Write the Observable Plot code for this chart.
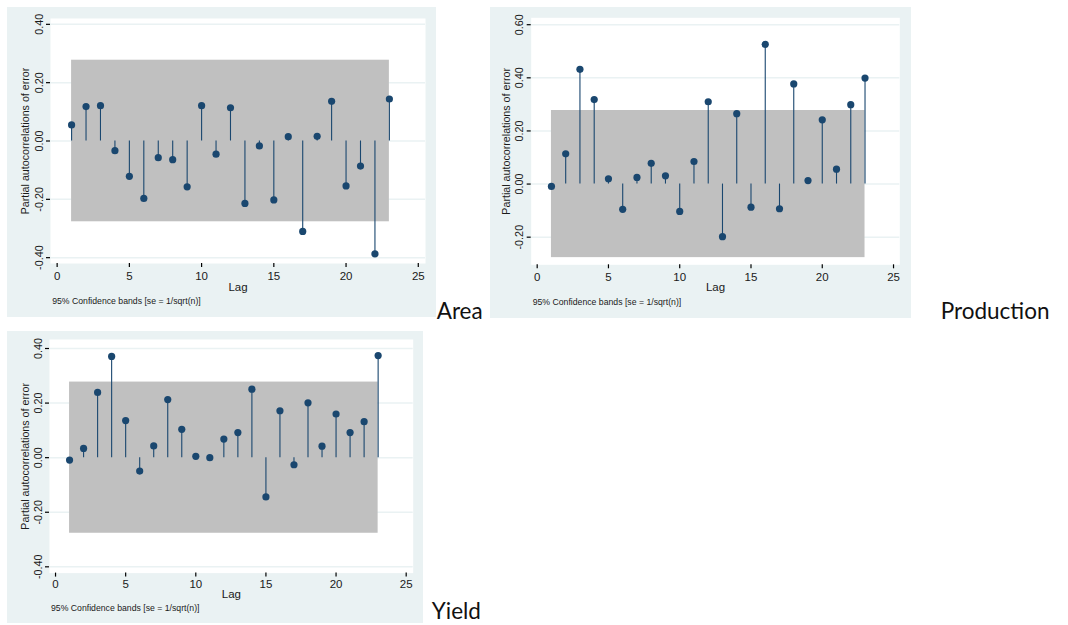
<!DOCTYPE html>
<html>
<head>
<meta charset="utf-8">
<script src="https://cdn.jsdelivr.net/npm/d3@7"></script>
<script src="https://cdn.jsdelivr.net/npm/@observablehq/plot@0.6"></script>
<style>
html, body { margin: 0; padding: 0; background: #ffffff; }
#root { position: relative; width: 1068px; height: 625px; overflow: hidden; }
.panel { position: absolute; }
#labels { position: absolute; left: 0; top: 0; pointer-events: none; }
</style>
</head>
<body>
<div id="root"></div>
<script>
// ---------- data ----------
const lags = [1, 2, 3, 4, 5, 6, 7, 8, 9, 10, 11, 12, 13, 14, 15, 16, 17, 18, 19, 20, 21, 22, 23];
const areaPacf = [0.055, 0.118, 0.121, -0.033, -0.121, -0.197, -0.057, -0.064, -0.157, 0.121, -0.045, 0.114,
                  -0.214, -0.017, -0.202, 0.015, -0.310, 0.016, 0.136, -0.154, -0.086, -0.387, 0.144];
const productionPacf = [-0.009, 0.114, 0.432, 0.318, 0.020, -0.095, 0.025, 0.078, 0.031, -0.103, 0.085, 0.310,
                        -0.198, 0.265, -0.087, 0.526, -0.093, 0.377, 0.013, 0.242, 0.056, 0.299, 0.399];
const yieldPacf = [-0.009, 0.034, 0.239, 0.371, 0.136, -0.049, 0.043, 0.213, 0.104, 0.005, 0.000, 0.068,
                   0.092, 0.251, -0.144, 0.172, -0.026, 0.201, 0.042, 0.160, 0.092, 0.132, 0.374];
const bandHalfWidth = 0.277;           // 95% band, se = 1/sqrt(n)
const xTicks = [0, 5, 10, 15, 20, 25];
const areaYTicks = [-0.4, -0.2, 0, 0.2, 0.4];
const productionYTicks = [-0.2, 0, 0.2, 0.4, 0.6];
const yieldYTicks = [-0.4, -0.2, 0, 0.2, 0.4];
const panelNames = ["Area", "Production", "Yield"];
const yAxisTitle = "Partial autocorrelations of error";
const xAxisTitle = "Lag";
const noteText = "95% Confidence bands [se = 1/sqrt(n)]";

// ---------- styling / layout ----------
const NAVY = "#1a476f";
const BG = "#eaf2f3";
const BAND = "#c0c0c0";
const TEXT = "#1a1a1a";
const FONT = "'Liberation Sans', Arial, sans-serif";

const panels = [
  { name: panelNames[0], values: areaPacf, yTicks: areaYTicks,
    left: 7, top: 7, width: 429, height: 310,
    margin: { top: 11, right: 11, bottom: 54, left: 43 },
    xDomain: [-0.46, 25.5], yDomain: [-0.42, 0.42],
    tickDy: 13, lagDy: 24, noteDy: 37.7, noteDx: 1.7, titleDx: -25, tickLabelDx: -8,
    label: { x: 436.7, y: 319.3 } },
  { name: panelNames[1], values: productionPacf, yTicks: productionYTicks,
    left: 490, top: 7, width: 421, height: 311,
    margin: { top: 10.3, right: 11.7, bottom: 53.7, left: 40.7 },
    xDomain: [-0.42, 25.44], yDomain: [-0.304, 0.626],
    tickDy: 12.4, lagDy: 23, noteDy: 37.4, noteDx: 1.5, titleDx: -25, tickLabelDx: -8,
    label: { x: 940.7, y: 319.3 } },
  { name: panelNames[2], values: yieldPacf, yTicks: yieldYTicks,
    left: 7, top: 331, width: 416, height: 292,
    margin: { top: 8, right: 10.3, bottom: 50.4, left: 42 },
    xDomain: [-0.43, 25.5], yDomain: [-0.423, 0.433],
    tickDy: 11, lagDy: 21.5, noteDy: 35, noteDx: 1.5, titleDx: -24, tickLabelDx: -7.5,
    label: { x: 431.7, y: 619 } }
];

const root = document.getElementById("root");

for (const p of panels) {
  const data = lags.map((lag, i) => ({ lag, value: p.values[i] }));
  const band = [{ x1: lags[0], x2: lags[lags.length - 1], y1: -bandHalfWidth, y2: bandHalfWidth }];

  const chart = Plot.plot({
    width: p.width,
    height: p.height,
    marginTop: p.margin.top,
    marginRight: p.margin.right,
    marginBottom: p.margin.bottom,
    marginLeft: p.margin.left,
    style: { background: BG, fontFamily: FONT, color: "#000", overflow: "visible" },
    x: { domain: p.xDomain },
    y: { domain: p.yDomain },
    marks: [
      Plot.frame({ fill: "white", stroke: null }),
      Plot.ruleY(p.yTicks, { y: d => d, stroke: BG, strokeWidth: 1.5 }),
      Plot.rect(band, { x1: "x1", x2: "x2", y1: "y1", y2: "y2", fill: BAND }),
      Plot.ruleX(data, { x: "lag", y1: 0, y2: "value", stroke: NAVY, strokeWidth: 1.1 }),
      Plot.dot(data, { x: "lag", y: "value", r: 3.6, fill: NAVY, stroke: null }),
      Plot.axisX(xTicks, { tickSize: 4, tickFormat: () => "", label: null, line: true, strokeWidth: 1.2 }),
      Plot.axisY(p.yTicks, { tickSize: 4, tickFormat: () => "", label: null, line: true, strokeWidth: 1.2 }),
      Plot.text(xTicks, { x: d => d, text: d => String(d), frameAnchor: "bottom", dy: p.tickDy,
        lineAnchor: "middle", fontSize: 11.5, fill: TEXT }),
      Plot.text(p.yTicks, { y: d => d, text: d => d.toFixed(2), frameAnchor: "left", dx: p.tickLabelDx,
        rotate: -90, textAnchor: "middle", lineAnchor: "bottom", fontSize: 10.8, fill: TEXT }),
      Plot.text([yAxisTitle], { text: d => d, frameAnchor: "left", dx: p.titleDx, rotate: -90,
        textAnchor: "middle", lineAnchor: "middle", fontSize: 10.7, fill: TEXT }),
      Plot.text([xAxisTitle], { text: d => d, frameAnchor: "bottom", dy: p.lagDy,
        lineAnchor: "middle", fontSize: 11.5, fill: TEXT }),
      Plot.text([noteText], { text: d => d, frameAnchor: "bottom-left", dx: p.noteDx, dy: p.noteDy,
        textAnchor: "start", lineAnchor: "middle", fontSize: 8.7, fill: TEXT })
    ]
  });
  const wrap = document.createElement("div");
  wrap.className = "panel";
  wrap.style.left = p.left + "px";
  wrap.style.top = p.top + "px";
  wrap.appendChild(chart);
  root.appendChild(wrap);
}

// panel names beside the charts
const labelSvg = d3.select(root).append("svg")
  .attr("id", "labels")
  .attr("width", 1068)
  .attr("height", 625);
labelSvg.selectAll("text")
  .data(panels)
  .join("text")
  .attr("x", d => d.label.x)
  .attr("y", d => d.label.y)
  .attr("font-family", "Lato, 'Open Sans', sans-serif")
  .attr("font-size", 22.5)
  .attr("fill", "#111")
  .text(d => d.name);
</script>
</body>
</html>
